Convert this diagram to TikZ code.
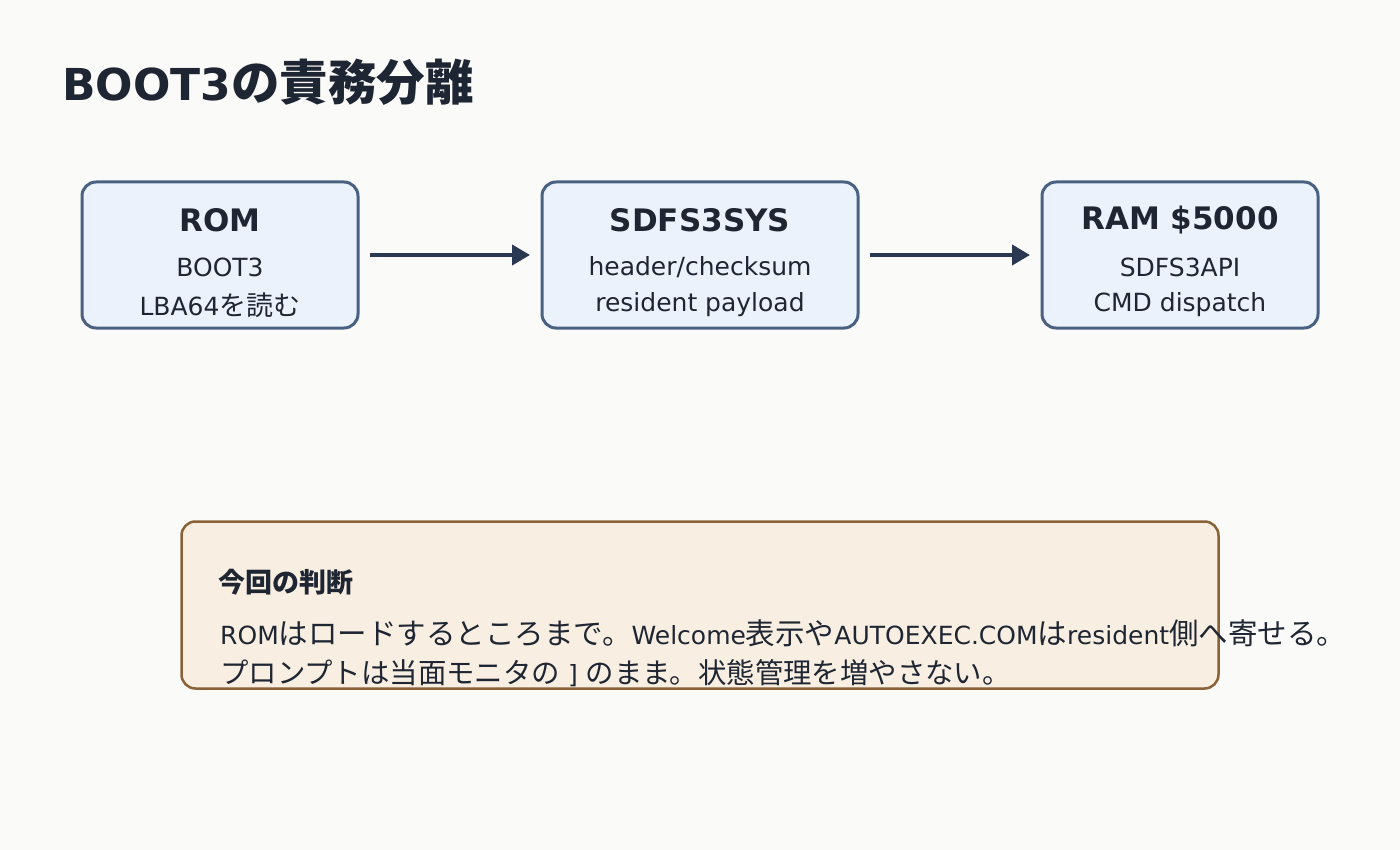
\documentclass[tikz,border=0pt]{standalone}
\usepackage{fontspec}
\setmainfont{DejaVu Sans}
\newfontfamily\jp{Noto Sans CJK JP}
\usetikzlibrary{arrows.meta}
\definecolor{bg}{HTML}{FAFAF8}
\definecolor{ink}{HTML}{1F2633}
\definecolor{boxfill}{HTML}{ECF2FB}
\definecolor{boxline}{HTML}{4A6282}
\definecolor{notefill}{HTML}{F8EEE1}
\definecolor{noteline}{HTML}{8A6238}
\definecolor{arrowc}{HTML}{2A3852}
\newcommand{\jpa}{\jp\fontsize{29.5}{32}\selectfont}
\newcommand{\jpb}{\jp\fontsize{28.4}{32}\selectfont}
\tikzset{
  x=1pt, y=-1pt,
  stage/.style={draw=boxline, line width=3pt, fill=boxfill, rounded corners=14pt, minimum width=276pt, minimum height=146pt, inner sep=0pt},
  stagehead/.style={text=ink, font=\fontsize{31}{34}\selectfont\bfseries, inner sep=0pt},
  stagesub/.style={text=ink, font=\fontsize{25}{28}\selectfont, inner sep=0pt},
  flow/.style={draw=arrowc, line width=4pt, -{Triangle[length=18pt,width=20pt]}},
  notebox/.style={draw=noteline, line width=2.5pt, fill=notefill, rounded corners=14pt, minimum width=1037pt, minimum height=167pt, inner sep=0pt},
  notetext/.style={text=ink, anchor=base west, inner sep=0pt, font=\fontsize{25}{28}\selectfont},
}
\begin{document}
\begin{tikzpicture}
\fill[bg] (0,0) rectangle (1400,850);
\useasboundingbox (0,0) rectangle (1400,850);

\node[anchor=base west, inner sep=0pt, text=ink] (title) at (62,101)
  {\fontsize{44}{50}\selectfont\bfseries BOOT3{\jp\fontsize{48.5}{50}\selectfont の責務分離}};

% stages
\node[stage] (rom) at (220,255) {};
\node[stagehead] (romh) at (220,220) {ROM};
\node[stagesub] (roms1) at (220,267) {BOOT3};
\node[stagesub] (roms2) at (220,305) {LBA64{\jp\fontsize{27}{28}\selectfont を読む}};

\node[stage, minimum width=316pt] (sys) at (700,255) {};
\node[stagehead] (sysh) at (700,220) {SDFS3SYS};
\node[stagesub] (syss1) at (700,267) {header/checksum};
\node[stagesub] (syss2) at (700,305) {resident payload};

\node[stage] (ram) at (1180,255) {};
\node[stagehead] (ramh) at (1180,220) {RAM \$5000};
\node[stagesub] (rams1) at (1180,267) {SDFS3API};
\node[stagesub] (rams2) at (1180,305) {CMD dispatch};

\coordinate (a1s) at (370,255);
\coordinate (a1e) at (530,255);
\coordinate (a2s) at (870,255);
\coordinate (a2e) at (1030,255);
\draw[flow] (a1s) -- (a1e);
\draw[flow] (a2s) -- (a2e);

% note
\node[notebox] (note) at (700,605) {};
\node[anchor=west, inner sep=0pt, text=ink] (noteh) at (218,582)
  {\jp\fontsize{27}{30}\selectfont\bfseries 今回の判断};
\node[notetext] (l1) at (220,644)
  {ROM{\jpa はロードするところまで。}Welcome{\jpa 表示や}AUTOEXEC.COM{\jpa は}resident{\jpa 側へ寄せる。}};
\node[notetext] (l2) at (220,683)
  {{\jpb プロンプトは当面モニタの} ] {\jpb のまま。状態管理を増やさない。}};
\end{tikzpicture}
\end{document}
